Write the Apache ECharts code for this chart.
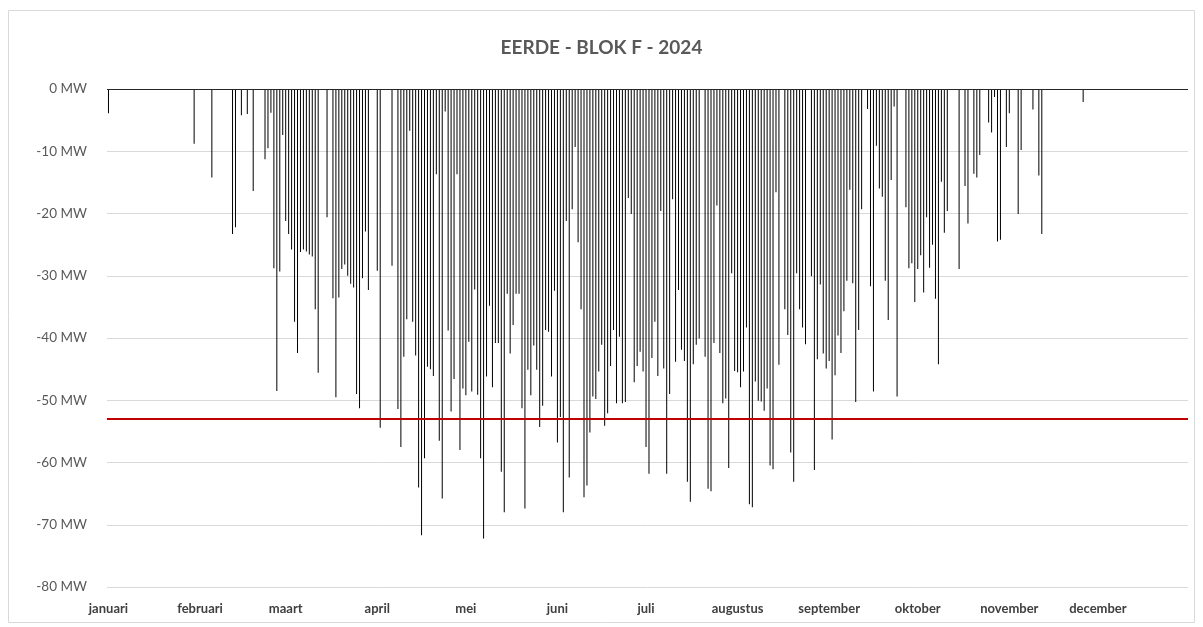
<!DOCTYPE html>
<html>
<head>
<meta charset="utf-8">
<script src="https://cdn.jsdelivr.net/npm/echarts@6/dist/echarts.min.js"></script>
<style>
  html, body { margin: 0; padding: 0; background: #fff; }
  #main { width: 1203px; height: 627px; }
</style>
</head>
<body>
<div id="main"></div>
<script>
// maandnamen (as-labels)
const months = ['januari', 'februari', 'maart', 'april', 'mei', 'juni', 'juli',
  'augustus', 'september', 'oktober', 'november', 'december'];

// dagwaarden in MW per maand (negatief = teruglevering)
const jan = [-3.9, 0, 0, 0, 0, 0, 0, 0, 0, 0, 0, 0, 0, 0, 0, 0, 0, 0, 0, 0,
  0, 0, 0, 0, 0, 0, 0, 0, 0, -8.8, 0];
const feb = [0, 0, 0, 0, -14.2, 0, 0, 0, 0, 0, 0, -23.3, -22.2, 0, -4.2, 0, -4.0, 0, -16.4, 0,
  0, 0, -11.3, -9.5, -3.8, -28.8, -48.5, -29.3, -7.4];
const mar = [-21.2, -23.3, -25.8, -37.4, -42.4, -26.2, -25.8, -26.1, -26.6, -26.9,
  -35.4, -45.6, 0, 0, -20.6, 0, -33.6, -49.5, -33.5, -28.9,
  -28.2, -30.0, -31.3, -31.9, -49.0, -51.3, -30.4, -22.9, -32.3, 0, 0];
const apr = [-29.2, -54.4, 0, 0, 0, -28.4, 0, -51.4, -57.5, -43.0,
  -37.0, -6.7, -37.4, -42.8, -64.0, -71.7, -59.3, -44.6, -45.0, -46.1,
  -13.7, -56.5, -65.8, -3.6, -38.8, -51.8, -46.6, -13.7, -58.0, -48.1];
const may = [-49.2, -40.6, -48.6, -32.2, -49.1, -59.3, -72.2, -46.2, -34.8, -47.9,
  -40.8, -40.8, -61.5, -68.0, -32.9, -42.5, -37.9, -32.9, -32.9, -51.3,
  -67.4, -45.1, -49.2, -41.2, -45.1, -54.3, -50.9, -38.7, -39.0, -46.2, -32.4];
const jun = [-56.8, -52.7, -68.0, -21.2, -62.4, -19.3, -9.3, -24.6, -35.4, -65.6,
  -63.7, -55.2, -49.4, -49.8, -45.4, -41.1, -54.1, -52.1, -44.5, -38.7,
  -50.5, -39.8, -50.5, -50.3, -17.5, -20.1, -47.1, -44.5, -42.2, -45.4];
const jul = [-57.5, -61.8, -43.2, -37.4, -46.1, -19.6, -44.9, -61.8, -49.0, -17.7,
  -43.8, -32.3, -41.9, -43.7, -63.1, -66.3, -44.2, -41.1, -40.1, 0,
  -43.0, -64.2, -64.6, -40.8, -18.7, -42.4, -50.5, -49.7, -60.9, -29.6, -45.3];
const aug = [-45.5, -47.9, -45.4, -38.3, -66.7, -67.2, -47.0, -50.1, -50.2, -51.7,
  -48.1, -60.5, -61.1, -16.6, -44.3, 0, -35.4, -39.5, -58.4, -63.1,
  -29.6, -35.4, -38.3, -41.0, 0, -30.1, -61.2, -43.4, -31.4, -42.5, -44.9];
const sep = [-43.7, -56.3, -46.0, -39.6, -42.4, -35.7, -30.8, -16.2, -31.2, -50.3,
  -38.7, -19.3, 0, -3.2, -31.7, -48.6, -9.1, -16.0, -17.3, -30.8,
  -37.1, -14.6, -2.8, -49.4, 0, 0, -19.0, -28.8, -28.0, -34.2];
const oct = [-28.9, -26.7, -32.7, -20.6, -28.7, -25.0, -33.7, -44.2, -14.9, -23.1,
  -19.6, 0, 0, 0, -28.9, 0, -15.6, -21.6, 0, -13.6,
  -14.2, -10.6, 0, 0, -5.4, -7.0, -1.3, -24.5, -24.2, 0, -9.3];
const nov = [-3.9, 0, 0, -20.1, -9.8, 0, 0, 0, -3.3, 0,
  -13.9, -23.3, 0, 0, 0, 0, 0, 0, 0, 0,
  0, 0, 0, 0, 0, -2.1, 0, 0, 0, 0];
const dec = [0, 0, 0, 0, 0, 0, 0, 0, 0, 0, 0, 0, 0, 0, 0, 0, 0, 0, 0, 0,
  0, 0, 0, 0, 0, 0, 0, 0, 0, 0, 0];

// grenswaarde (rode lijn)
const limit = -53;

const perMonth = [jan, feb, mar, apr, may, jun, jul, aug, sep, oct, nov, dec];
const days = [];
const values = [];
perMonth.forEach((arr, m) => {
  arr.forEach((v, i) => {
    days.push(m + '-' + (i + 1));
    values.push(v);
  });
});

const myChart = echarts.init(document.getElementById('main'));
const font = 'Lato, "Open Sans", sans-serif';

const option = {
  animation: false,
  backgroundColor: '#fff',
  textStyle: { fontFamily: font },
  title: {
    text: 'EERDE - BLOK F - 2024',
    left: 'center',
    top: 33,
    textStyle: { fontSize: 19, fontWeight: 'bold', color: '#595959', fontFamily: font }
  },
  graphic: [{
    type: 'rect',
    shape: { x: 8.5, y: 10.5, width: 1186, height: 612 },
    style: { fill: null, stroke: '#d9d9d9', lineWidth: 1 },
    silent: true
  }],
  grid: { left: 107, right: 15, top: 89, bottom: 40 },
  xAxis: {
    type: 'category',
    data: days,
    boundaryGap: true,
    axisLine: { show: false },
    axisTick: { show: false },
    splitLine: { show: false },
    axisLabel: {
      interval: (idx, val) => val.endsWith('-1'),
      formatter: (val) => months[Number(val.split('-')[0])],
      margin: 15,
      fontSize: 13,
      fontWeight: 'bold',
      color: '#404040',
      fontFamily: font
    }
  },
  yAxis: {
    type: 'value',
    min: -80,
    max: 0,
    interval: 10,
    axisLine: { show: false },
    axisTick: { show: false },
    splitLine: { lineStyle: { color: '#d9d9d9', width: 1 } },
    axisLabel: {
      formatter: (v) => v + ' MW',
      fontSize: 13.5,
      color: '#595959',
      margin: 20,
      fontFamily: font
    }
  },
  series: [{
    type: 'bar',
    data: values,
    barWidth: 1,
    itemStyle: { color: '#000' },
    silent: true,
    markLine: {
      silent: true,
      symbol: 'none',
      label: { show: false },
      data: [
        { yAxis: 0, lineStyle: { color: '#262626', width: 1, type: 'solid' } },
        { yAxis: limit, lineStyle: { color: '#c00000', width: 2, type: 'solid' } }
      ]
    }
  }]
};

option && myChart.setOption(option);
</script>
</body>
</html>
